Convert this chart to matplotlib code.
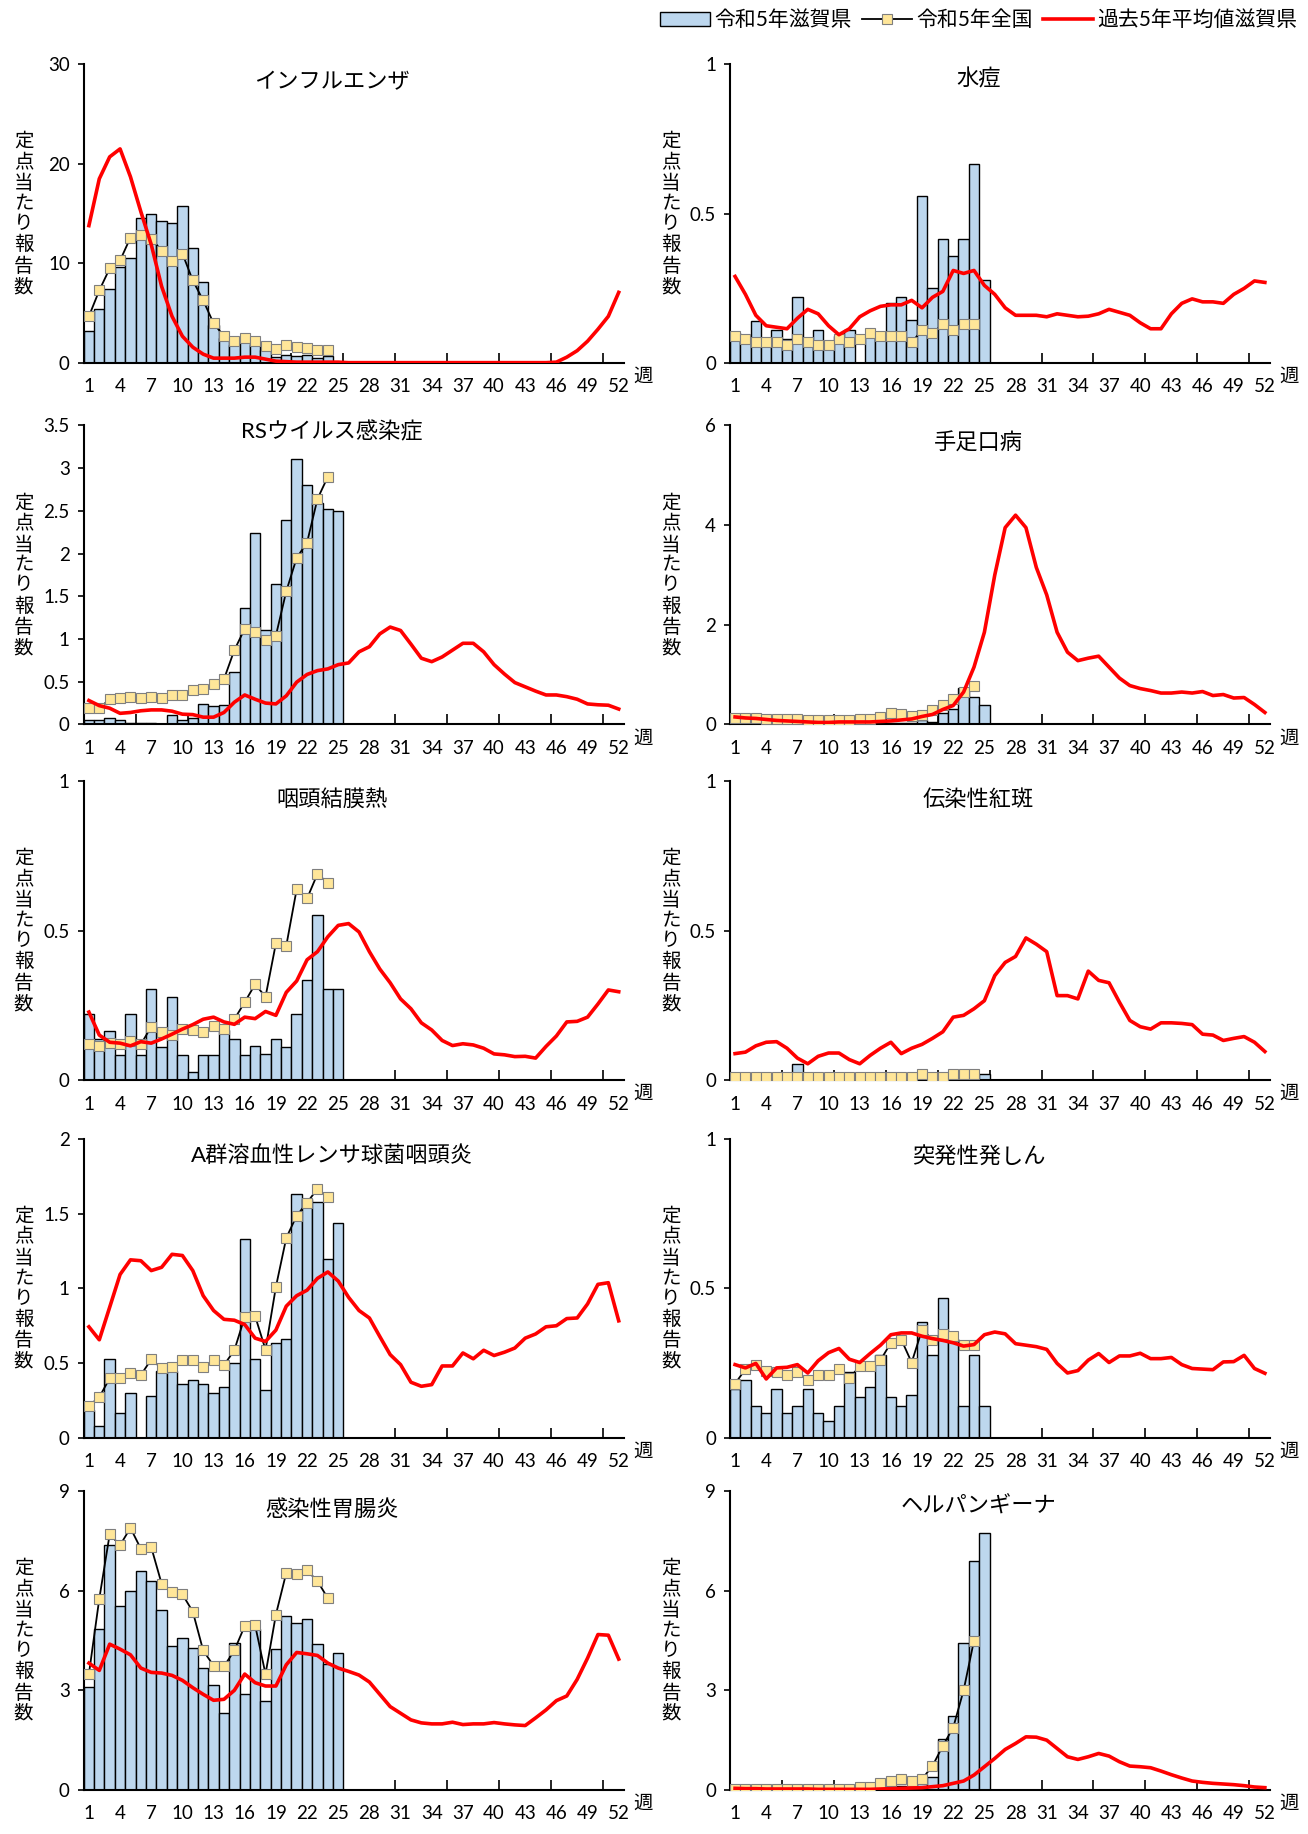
import matplotlib
matplotlib.use('Agg')
import matplotlib.pyplot as plt
import numpy as np
from matplotlib.lines import Line2D
from matplotlib.patches import Patch
from matplotlib.ticker import FuncFormatter

plt.rcParams['font.family'] = ['Lato', 'Noto Sans CJK JP']

weeks = np.arange(1, 53)

# インフルエンザ
flu_shiga = [3.2, 5.4, 7.4, 9.6, 10.6, 14.6, 15.0, 14.3, 14.1, 15.8, 11.6, 8.1, 3.8,
             2.5, 1.8, 2.1, 1.8, 1.3, 0.6, 0.8, 0.7, 0.8, 0.5, 0.7, 0.0]
flu_nat = [4.7, 7.3, 9.5, 10.3, 12.6, 12.9, 12.5, 11.3, 10.2, 11.0, 8.3, 6.3, 4.0,
           2.7, 2.2, 2.5, 2.2, 1.7, 1.4, 1.8, 1.6, 1.5, 1.3, 1.3]
flu_avg = [13.8, 18.5, 20.7, 21.5, 18.7, 15.2, 11.9, 7.7, 4.7, 2.7, 1.6, 0.9, 0.5,
           0.5, 0.5, 0.6, 0.6, 0.4, 0.2, 0.15, 0.1, 0.1, 0.1, 0.1, 0.1, 0.05,
           0.05, 0.05, 0.05, 0.05, 0.05, 0.05, 0.05, 0.05, 0.05, 0.05, 0.05, 0.05, 0.05,
           0.05, 0.05, 0.05, 0.05, 0.05, 0.05, 0.1, 0.6, 1.25, 2.2, 3.4, 4.7, 7.1]

# 水痘
vari_shiga = [0.10, 0.09, 0.14, 0.07, 0.11, 0.08, 0.22, 0.08, 0.11, 0.05, 0.09, 0.11, 0.0,
              0.09, 0.09, 0.20, 0.22, 0.145, 0.56, 0.25, 0.415, 0.36, 0.415, 0.667, 0.277]
vari_nat = [0.09, 0.08, 0.07, 0.07, 0.07, 0.06, 0.08, 0.07, 0.06, 0.06, 0.08, 0.07, 0.08,
            0.10, 0.09, 0.09, 0.09, 0.07, 0.11, 0.10, 0.13, 0.11, 0.13, 0.13]
vari_avg = [0.29, 0.23, 0.16, 0.125, 0.12, 0.115, 0.15, 0.18, 0.165, 0.125, 0.095, 0.115, 0.155,
            0.175, 0.19, 0.195, 0.195, 0.21, 0.185, 0.22, 0.24, 0.31, 0.30, 0.31, 0.26, 0.23,
            0.185, 0.16, 0.16, 0.16, 0.155, 0.165, 0.16, 0.155, 0.157, 0.165, 0.18, 0.17, 0.16,
            0.135, 0.115, 0.115, 0.165, 0.2, 0.215, 0.205, 0.205, 0.2, 0.23, 0.25, 0.275, 0.27]

# RSウイルス感染症
rs_shiga = [0.05, 0.05, 0.08, 0.05, 0.02, 0.02, 0.02, 0.0, 0.11, 0.05, 0.08, 0.245, 0.22,
            0.225, 0.61, 1.36, 2.245, 1.11, 1.64, 2.39, 3.11, 2.80, 2.59, 2.52, 2.50]
rs_nat = [0.19, 0.19, 0.295, 0.315, 0.32, 0.305, 0.325, 0.315, 0.34, 0.35, 0.40, 0.42, 0.475,
          0.53, 0.87, 1.12, 1.08, 0.99, 1.04, 1.56, 1.95, 2.13, 2.64, 2.90]
rs_avg = [0.28, 0.22, 0.19, 0.13, 0.14, 0.16, 0.17, 0.17, 0.155, 0.12, 0.115, 0.085, 0.085,
          0.14, 0.26, 0.345, 0.295, 0.25, 0.24, 0.335, 0.495, 0.585, 0.63, 0.65, 0.70, 0.72,
          0.85, 0.91, 1.06, 1.14, 1.10, 0.94, 0.775, 0.735, 0.79, 0.87, 0.95, 0.95, 0.85,
          0.70, 0.59, 0.49, 0.44, 0.39, 0.345, 0.345, 0.325, 0.295, 0.24, 0.23, 0.225, 0.18]

# 手足口病
hfmd_shiga = [0.05, 0.03, 0.03, 0.03, 0.03, 0.03, 0.03, 0.03, 0.03, 0.03, 0.03, 0.03, 0.03,
              0.03, 0.03, 0.03, 0.03, 0.03, 0.08, 0.05, 0.22, 0.30, 0.74, 0.56, 0.38]
hfmd_nat = [0.13, 0.12, 0.12, 0.11, 0.10, 0.10, 0.10, 0.09, 0.09, 0.09, 0.09, 0.09, 0.10,
            0.10, 0.14, 0.22, 0.21, 0.17, 0.19, 0.28, 0.40, 0.52, 0.66, 0.77]
hfmd_avg = [0.15, 0.13, 0.12, 0.10, 0.08, 0.07, 0.06, 0.05, 0.04, 0.04, 0.05, 0.05, 0.05,
            0.05, 0.06, 0.07, 0.09, 0.11, 0.16, 0.20, 0.30, 0.38, 0.65, 1.15, 1.85, 3.0,
            3.95, 4.2, 3.95, 3.15, 2.6, 1.85, 1.45, 1.28, 1.33, 1.37, 1.15, 0.93, 0.78,
            0.72, 0.68, 0.63, 0.63, 0.65, 0.63, 0.66, 0.58, 0.60, 0.53, 0.54, 0.40, 0.24]

# 咽頭結膜熱
pcf_shiga = [0.222, 0.138, 0.165, 0.083, 0.222, 0.083, 0.305, 0.11, 0.277, 0.083, 0.028, 0.083, 0.083,
             0.168, 0.138, 0.083, 0.113, 0.089, 0.138, 0.11, 0.222, 0.335, 0.554, 0.305, 0.305]
pcf_nat = [0.12, 0.113, 0.124, 0.12, 0.131, 0.12, 0.179, 0.16, 0.151, 0.171, 0.168, 0.16, 0.181,
           0.17, 0.204, 0.261, 0.321, 0.279, 0.458, 0.45, 0.639, 0.608, 0.69, 0.66]
pcf_avg = [0.228, 0.151, 0.127, 0.124, 0.115, 0.129, 0.124, 0.138, 0.154, 0.171, 0.186, 0.204, 0.211,
           0.195, 0.187, 0.211, 0.206, 0.23, 0.217, 0.294, 0.332, 0.403, 0.43, 0.48, 0.518, 0.524,
           0.496, 0.43, 0.372, 0.326, 0.272, 0.239, 0.192, 0.168, 0.133, 0.116, 0.122, 0.118, 0.107,
           0.088, 0.085, 0.079, 0.08, 0.074, 0.113, 0.148, 0.195, 0.197, 0.211, 0.255, 0.302, 0.296]

# 伝染性紅斑
ery_shiga = [0, 0, 0, 0, 0, 0, 0.054, 0, 0, 0, 0.02, 0, 0,
             0.02, 0, 0, 0, 0, 0, 0, 0.02, 0, 0, 0, 0.02]
ery_nat = [0.011, 0.011, 0.011, 0.011, 0.011, 0.011, 0.011, 0.011, 0.011, 0.011, 0.011, 0.011, 0.011,
           0.011, 0.011, 0.011, 0.011, 0.011, 0.02, 0.011, 0.011, 0.02, 0.02, 0.02]
ery_avg = [0.089, 0.094, 0.115, 0.127, 0.129, 0.107, 0.074, 0.055, 0.08, 0.091, 0.091, 0.069, 0.055,
           0.083, 0.107, 0.127, 0.089, 0.107, 0.12, 0.14, 0.162, 0.211, 0.217, 0.239, 0.266, 0.35,
           0.394, 0.414, 0.476, 0.455, 0.43, 0.283, 0.283, 0.272, 0.365, 0.334, 0.326, 0.261, 0.2,
           0.179, 0.171, 0.192, 0.192, 0.19, 0.186, 0.154, 0.151, 0.133, 0.14, 0.146, 0.127, 0.096]

# A群溶血性レンサ球菌咽頭炎
gas_shiga = [0.186, 0.081, 0.525, 0.164, 0.302, 0.0, 0.278, 0.444, 0.444, 0.36, 0.389, 0.36, 0.302,
             0.343, 0.498, 1.329, 0.525, 0.321, 0.634, 0.662, 1.633, 1.60, 1.578, 1.196, 1.438]
gas_nat = [0.214, 0.273, 0.398, 0.398, 0.437, 0.42, 0.525, 0.466, 0.477, 0.518, 0.518, 0.477, 0.518,
           0.487, 0.586, 0.809, 0.815, 0.59, 1.01, 1.338, 1.486, 1.574, 1.666, 1.613]
gas_avg = [0.743, 0.656, 0.874, 1.093, 1.191, 1.185, 1.119, 1.141, 1.228, 1.22, 1.119, 0.951, 0.852,
           0.793, 0.787, 0.758, 0.667, 0.645, 0.721, 0.881, 0.951, 0.988, 1.067, 1.11, 1.049, 0.94,
           0.852, 0.802, 0.678, 0.557, 0.49, 0.372, 0.345, 0.356, 0.481, 0.481, 0.568, 0.529, 0.586,
           0.551, 0.573, 0.601, 0.667, 0.695, 0.743, 0.75, 0.798, 0.802, 0.896, 1.027, 1.038, 0.783]

# 突発性発しん
es_shiga = [0.164, 0.192, 0.107, 0.082, 0.164, 0.082, 0.107, 0.164, 0.082, 0.055, 0.107, 0.219, 0.137,
            0.17, 0.276, 0.137, 0.107, 0.145, 0.387, 0.276, 0.469, 0.329, 0.107, 0.276, 0.107]
es_nat = [0.181, 0.23, 0.245, 0.223, 0.219, 0.21, 0.219, 0.192, 0.21, 0.21, 0.23, 0.2, 0.239,
          0.241, 0.26, 0.318, 0.329, 0.252, 0.362, 0.329, 0.349, 0.342, 0.312, 0.312]
es_avg = [0.245, 0.234, 0.249, 0.197, 0.234, 0.236, 0.245, 0.217, 0.258, 0.285, 0.299, 0.263, 0.252,
          0.282, 0.31, 0.345, 0.351, 0.351, 0.34, 0.332, 0.326, 0.318, 0.307, 0.312, 0.345, 0.354,
          0.348, 0.315, 0.31, 0.305, 0.296, 0.249, 0.217, 0.225, 0.26, 0.282, 0.252, 0.274, 0.274,
          0.283, 0.265, 0.265, 0.269, 0.245, 0.232, 0.23, 0.228, 0.254, 0.255, 0.276, 0.232, 0.216]

# 感染性胃腸炎
ge_shiga = [3.10, 4.86, 7.37, 5.55, 5.99, 6.60, 6.29, 5.42, 4.33, 4.59, 4.26, 3.67, 3.16,
            2.32, 4.43, 2.90, 4.86, 2.67, 4.23, 5.23, 5.03, 5.15, 4.39, 3.79, 4.12]
ge_nat = [3.49, 5.76, 7.70, 7.37, 7.89, 7.26, 7.31, 6.21, 5.96, 5.89, 5.37, 4.20, 3.74,
          3.72, 4.20, 4.94, 4.96, 3.49, 5.28, 6.54, 6.49, 6.61, 6.29, 5.77]
ge_avg = [3.82, 3.60, 4.39, 4.24, 4.07, 3.67, 3.54, 3.52, 3.45, 3.30, 3.08, 2.88, 2.70,
          2.73, 3.00, 3.49, 3.23, 3.13, 3.13, 3.77, 4.14, 4.10, 4.05, 3.82, 3.67, 3.57,
          3.46, 3.25, 2.88, 2.51, 2.31, 2.11, 2.02, 1.99, 1.99, 2.04, 1.97, 1.99, 1.99,
          2.03, 1.99, 1.96, 1.94, 2.17, 2.41, 2.69, 2.83, 3.33, 3.97, 4.68, 4.66, 3.94]

# ヘルパンギーナ
hp_shiga = [0.02, 0.02, 0.02, 0.02, 0.02, 0.02, 0.02, 0.02, 0.02, 0.02, 0.02, 0.02, 0.02,
            0.05, 0.08, 0.10, 0.12, 0.10, 0.25, 0.40, 1.53, 2.23, 4.43, 6.89, 7.74]
hp_nat = [0.02, 0.03, 0.04, 0.04, 0.04, 0.03, 0.03, 0.03, 0.02, 0.03, 0.04, 0.04, 0.10,
          0.10, 0.20, 0.28, 0.32, 0.27, 0.33, 0.72, 1.33, 1.88, 3.0, 4.5]
hp_avg = [0.05, 0.04, 0.04, 0.03, 0.03, 0.03, 0.03, 0.03, 0.02, 0.02, 0.02, 0.02, 0.02,
          0.02, 0.03, 0.04, 0.05, 0.06, 0.07, 0.10, 0.13, 0.20, 0.27, 0.45, 0.70, 0.95,
          1.22, 1.40, 1.60, 1.59, 1.50, 1.25, 1.00, 0.92, 1.00, 1.10, 1.02, 0.85, 0.72,
          0.70, 0.67, 0.57, 0.46, 0.36, 0.27, 0.23, 0.20, 0.18, 0.16, 0.13, 0.09, 0.07]

# (title, ymax, ystep, shiga, national, average, title y)
panels = [
    ('インフルエンザ', 30, 10, flu_shiga, flu_nat, flu_avg, 0.94),
    ('水痘', 1, 0.5, vari_shiga, vari_nat, vari_avg, 0.95),
    ('RSウイルス感染症', 3.5, 0.5, rs_shiga, rs_nat, rs_avg, 0.98),
    ('手足口病', 6, 2, hfmd_shiga, hfmd_nat, hfmd_avg, 0.94),
    ('咽頭結膜熱', 1, 0.5, pcf_shiga, pcf_nat, pcf_avg, 0.94),
    ('伝染性紅斑', 1, 0.5, ery_shiga, ery_nat, ery_avg, 0.94),
    ('A群溶血性レンサ球菌咽頭炎', 2, 0.5, gas_shiga, gas_nat, gas_avg, 0.94),
    ('突発性発しん', 1, 0.5, es_shiga, es_nat, es_avg, 0.94),
    ('感染性胃腸炎', 9, 3, ge_shiga, ge_nat, ge_avg, 0.94),
    ('ヘルパンギーナ', 9, 3, hp_shiga, hp_nat, hp_avg, 0.95),
]

bar_color = '#BDD7EE'
mark_color = '#FFE699'

fig = plt.figure(figsize=(13.08, 18.34), dpi=100)

lefts = [0.064, 0.558]
ylab_x = [0.018, 0.513]
bottoms = [0.802, 0.605, 0.411, 0.216, 0.024]
w_ax = 0.413
h_ax = 0.163

for i, (title, ymax, ystep, shiga, nat, avg, ty) in enumerate(panels):
    row, col = divmod(i, 2)
    ax = fig.add_axes([lefts[col], bottoms[row], w_ax, h_ax])

    ax.bar(weeks[:len(shiga)], shiga, width=1.0, color=bar_color,
           edgecolor='black', linewidth=1.0, zorder=2)
    ax.plot(weeks[:len(nat)], nat, color='black', lw=1.3, marker='s', ms=6.5,
            mfc=mark_color, mec='#7F7F7F', mew=0.8, zorder=3)
    ax.plot(weeks, avg, color='#FF0000', lw=2.6, zorder=4)

    ax.set_xlim(0.5, 52.5)
    ax.set_ylim(0, ymax)
    ax.set_yticks(np.arange(0, ymax + 1e-9, ystep))
    ax.yaxis.set_major_formatter(FuncFormatter(lambda v, p: f'{v:g}'))

    ax.set_xticks(np.arange(5.5, 51, 5))
    ax.set_xticks(np.arange(1, 53, 3), minor=True)
    ax.set_xticklabels([str(k) for k in range(1, 53, 3)], minor=True)
    ax.tick_params(axis='x', which='major', direction='in', length=7,
                   width=1.2, labelbottom=False)
    ax.tick_params(axis='x', which='minor', length=0, pad=11, labelsize=13.5)
    ax.tick_params(axis='y', direction='out', length=4, width=1.2,
                   labelsize=13.5, pad=6)

    for s in ['top', 'right']:
        ax.spines[s].set_visible(False)
    for s in ['left', 'bottom']:
        ax.spines[s].set_linewidth(1.5)

    ax.text(0.46, ty, title, transform=ax.transAxes, ha='center', va='center',
            fontsize=16)
    ax.text(1.035, -0.045, '週', transform=ax.transAxes, ha='center',
            va='center', fontsize=14)
    fig.text(ylab_x[col], bottoms[row] + h_ax / 2, '\n'.join('定点当たり報告数'),
             ha='center', va='center', fontsize=14, linespacing=1.2)

handles = [
    Patch(facecolor=bar_color, edgecolor='black', linewidth=1.0),
    Line2D([], [], color='black', lw=1.3, marker='s', ms=6.5, mfc=mark_color,
           mec='#7F7F7F', mew=0.8),
    Line2D([], [], color='#FF0000', lw=2.6),
]
labels = ['令和5年滋賀県', '令和5年全国', '過去5年平均値滋賀県']
fig.legend(handles, labels, loc='upper right', bbox_to_anchor=(1.0, 1.0),
           ncol=3, frameon=False, fontsize=15, handlelength=2.4,
           handleheight=0.7, handletextpad=0.2, columnspacing=0.5,
           borderaxespad=0.1)

fig.savefig('out.png', dpi=100)
